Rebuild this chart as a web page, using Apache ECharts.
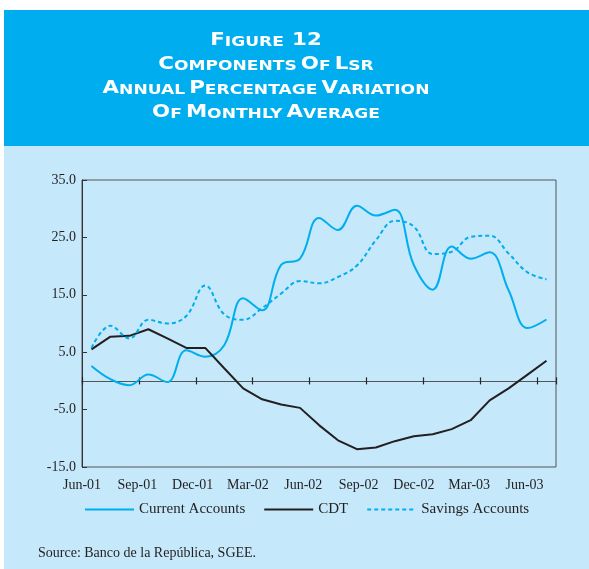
<!DOCTYPE html>
<html>
<head>
<meta charset="utf-8">
<script src="https://cdn.jsdelivr.net/npm/echarts@6/dist/echarts.min.js"></script>
<style>
  html, body { margin: 0; padding: 0; background: #fff; }
  #chart { width: 589px; height: 569px; }
</style>
</head>
<body>
<div id="chart"></div>
<script>
const months = ['Jun-01', 'Jul-01', 'Aug-01', 'Sep-01', 'Oct-01', 'Nov-01', 'Dec-01',
  'Jan-02', 'Feb-02', 'Mar-02', 'Apr-02', 'May-02', 'Jun-02', 'Jul-02', 'Aug-02',
  'Sep-02', 'Oct-02', 'Nov-02', 'Dec-02', 'Jan-03', 'Feb-03', 'Mar-03', 'Apr-03',
  'May-03', 'Jun-03'];
const tickLabels = ['Jun-01', 'Sep-01', 'Dec-01', 'Mar-02', 'Jun-02', 'Sep-02', 'Dec-02', 'Mar-03', 'Jun-03'];

const currentAccounts = [2.6, 0.3, -0.75, 1.1, -0.2, 5.35, 4.2, 6.2, 14.4, 12.3, 20.2, 21.3,
  28.4, 26.3, 30.5, 28.8, 29.8, 20.2, 15.9, 23.4, 21.3, 22.4, 15.8, 9.2, 10.7];
const cdt = [5.5, 7.7, 7.85, 9.0, 7.4, 5.75, 5.75, 2.2, -1.3, -3.2, -4.1, -4.7,
  -7.7, -10.35, -11.9, -11.6, -10.5, -9.65, -9.3, -8.4, -6.85, -3.4, -1.3, 1.1, 3.5];
const savingsAccounts = [5.75, 9.6, 7.4, 10.65, 10.0, 11.3, 16.6, 11.6, 10.65, 12.7, 15.2, 17.4,
  17.0, 18.1, 20.1, 24.5, 27.9, 26.9, 22.1, 22.5, 25.1, 25.3, 22.2, 18.9, 17.7];

const titleLines = [
  '{c|F}{s|IGURE}  {c|12}',
  '{c|C}{s|OMPONENTS} {c|O}{s|F} {c|L}{s|SR}',
  '{c|A}{s|NNUAL} {c|P}{s|ERCENTAGE} {c|V}{s|ARIATION}',
  '{c|O}{s|F} {c|M}{s|ONTHLY} {c|A}{s|VERAGE}'
];

const dark = '#231f20';
const cyan = '#00aeef';
const serif = 'Liberation Serif';

const chart = echarts.init(document.getElementById('chart'));

const titleGraphics = titleLines.map((t, i) => ({
  type: 'text',
  x: 266,
  y: 40 + i * 24,
  scaleX: 1.22,
  style: {
    text: t,
    x: 0,
    y: 0,
    align: 'center',
    verticalAlign: 'middle',
    rich: {
      c: { fontSize: 17.5, fontWeight: 'bold', fontFamily: 'DejaVu Sans', fill: '#fff', verticalAlign: 'bottom' },
      s: { fontSize: 14, fontWeight: 'bold', fontFamily: 'DejaVu Sans', fill: '#fff', verticalAlign: 'bottom' }
    }
  }
}));

// ticks that cross the zero line: one half from each of two stacked axes
const tickStyle = { show: true, length: 3.5, interval: 2, lineStyle: { color: '#222', width: 1.2 } };

const option = {
  backgroundColor: '#fff',
  animation: false,
  graphic: [
    { type: 'rect', z: -10, silent: true, shape: { x: 4, y: 10, width: 585, height: 136 }, style: { fill: '#00aeef' } },
    { type: 'rect', z: -10, silent: true, shape: { x: 4, y: 146, width: 585, height: 423 }, style: { fill: '#c5e8fa' } },
    ...titleGraphics,
    {
      type: 'text', x: 38, y: 553,
      style: { text: 'Source: Banco de la República, SGEE.', fontSize: 14, fontFamily: serif, fill: dark, verticalAlign: 'middle' }
    }
  ],
  legend: {
    left: 79,
    top: 497,
    itemWidth: 49,
    itemHeight: 14,
    itemGap: 18,
    itemStyle: { opacity: 0 },
    textStyle: { fontFamily: serif, fontSize: 15, color: dark },
    data: ['Current Accounts', 'CDT', 'Savings Accounts']
  },
  grid: [
    { left: 82, right: 33, top: 180, bottom: 102, show: true, borderColor: '#555', borderWidth: 1 },
    { left: 82, right: 64.5, top: 180, bottom: 102 }
  ],
  xAxis: [
    {
      type: 'category',
      data: months,
      boundaryGap: true,
      axisLine: { onZero: true, onZeroAxisIndex: 0, lineStyle: { color: '#555', width: 1 } },
      axisTick: tickStyle,
      axisLabel: { show: false }
    },
    {
      type: 'category',
      data: months,
      position: 'top',
      boundaryGap: true,
      axisLine: { onZero: true, onZeroAxisIndex: 2, lineStyle: { color: '#555', width: 1 } },
      axisTick: tickStyle,
      axisLabel: { show: false }
    },
    {
      type: 'category',
      gridIndex: 1,
      data: tickLabels,
      boundaryGap: false,
      position: 'bottom',
      axisLine: { show: false },
      axisTick: { show: false },
      axisLabel: { interval: 0, margin: 11, fontFamily: serif, fontSize: 14, color: dark }
    }
  ],
  yAxis: [
    {
      type: 'value',
      min: -15,
      max: 35,
      interval: 10,
      axisLine: { show: true, lineStyle: { color: '#333' } },
      axisTick: { show: true, inside: true, length: 5, lineStyle: { color: '#333' } },
      splitLine: { show: false },
      axisLabel: { margin: 6, fontFamily: serif, fontSize: 14, color: dark, formatter: (v) => v.toFixed(1) }
    },
    { type: 'value', gridIndex: 1, show: false, min: -15, max: 35 },
    {
      type: 'value', gridIndex: 0, min: -15, max: 35, interval: 10, position: 'right',
      axisLine: { show: false }, axisTick: { show: false }, axisLabel: { show: false }, splitLine: { show: false }
    }
  ],
  series: [
    {
      name: 'Current Accounts', type: 'line', data: currentAccounts, smooth: 0.4,
      symbol: 'none', lineStyle: { color: cyan, width: 2 }, itemStyle: { color: cyan }
    },
    {
      name: 'CDT', type: 'line', data: cdt,
      symbol: 'none', lineStyle: { color: dark, width: 2 }, itemStyle: { color: dark }
    },
    {
      name: 'Savings Accounts', type: 'line', data: savingsAccounts, smooth: 0.4,
      symbol: 'none', lineStyle: { color: cyan, width: 2, type: [4, 3] }, itemStyle: { color: cyan }
    }
  ]
};

chart.setOption(option);
</script>
</body>
</html>
